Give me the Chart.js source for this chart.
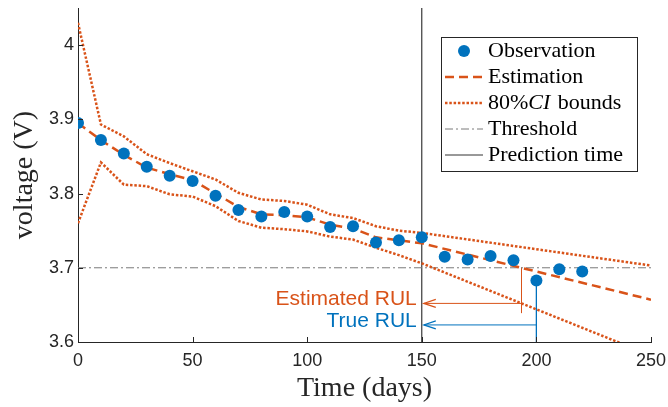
<!DOCTYPE html>
<html>
<head>
<meta charset="utf-8">
<script src="https://cdn.jsdelivr.net/npm/chart.js@4.4.1/dist/chart.umd.min.js"></script>
<style>
  html, body { margin: 0; padding: 0; background: #fff; }
</style>
</head>
<body>
<canvas id="chart" width="668" height="407"></canvas>
<script>
// observed voltage every 10 days
const obsDays = [0, 10, 20, 30, 40, 50, 60, 70, 80, 90, 100, 110, 120, 130, 140, 150, 160, 170, 180, 190, 200, 210, 220];
const obsVolt = [3.895, 3.872, 3.854, 3.836, 3.824, 3.817, 3.797, 3.778, 3.769, 3.775, 3.769, 3.755, 3.756, 3.734, 3.737, 3.741, 3.715, 3.711, 3.716, 3.710, 3.683, 3.698, 3.695];

// filtered estimate, then extrapolation after prediction time
const estDays = [0, 10, 20, 30, 40, 50, 60, 70, 80, 90, 100, 110, 120, 130, 140, 150, 250];
const estVolt = [3.895, 3.872, 3.852, 3.835, 3.826, 3.818, 3.800, 3.782, 3.772, 3.771, 3.768, 3.758, 3.753, 3.741, 3.737, 3.733, 3.657];

// 80% confidence bounds
const ciDays = [0, 10, 20, 30, 40, 50, 60, 70, 80, 90, 100, 110, 120, 130, 140, 150, 250];
const ciUpper = [4.030, 3.893, 3.877, 3.853, 3.841, 3.830, 3.819, 3.801, 3.792, 3.790, 3.785, 3.772, 3.767, 3.756, 3.750, 3.747, 3.703];
const ciLower = [3.760, 3.842, 3.812, 3.810, 3.799, 3.796, 3.783, 3.763, 3.754, 3.752, 3.749, 3.742, 3.738, 3.727, 3.717, 3.706, 3.582];

const threshold = 3.7;
const predictionTime = 150;
const estRulDay = 193.5;
const estRulArrowV = 3.652;
const estRulLineEnd = 3.639;
const trueRulDay = 200;
const trueRulArrowV = 3.623;

const xTicks = [0, 50, 100, 150, 200, 250];
const yTicks = [3.6, 3.7, 3.8, 3.9, 4];

const ORANGE = '#D95319';
const BLUE = '#0072BD';
const AXIS = '#262626';
const SANS = '"Liberation Sans", Arial, sans-serif';
const SERIF = '"Liberation Serif", "Times New Roman", serif';
const DOTS = [2.5, 1.8];

const pts = (xs, ys) => xs.map((x, i) => ({ x: x, y: ys[i] }));

const line = (data, color, width, dash) => ({
  data: data,
  showLine: true,
  borderColor: color,
  borderWidth: width,
  borderDash: dash || [],
  pointRadius: 0,
  fill: false,
  tension: 0
});

// inward ticks, arrowheads, RUL labels and the boxed legend
const extras = {
  id: 'extras',
  afterDatasetsDraw(chart) {
    const { ctx, chartArea: a, scales: { x, y } } = chart;
    ctx.save();
    ctx.strokeStyle = AXIS;
    ctx.lineWidth = 1;
    xTicks.forEach(v => {
      const px = Math.round(x.getPixelForValue(v)) + 0.5;
      ctx.beginPath(); ctx.moveTo(px, a.bottom); ctx.lineTo(px, a.bottom - 5); ctx.stroke();
    });
    yTicks.forEach(v => {
      const py = Math.round(y.getPixelForValue(v)) + 0.5;
      ctx.beginPath(); ctx.moveTo(a.left, py); ctx.lineTo(a.left + 5, py); ctx.stroke();
    });

    const tipX = x.getPixelForValue(predictionTime) + 2;
    const arrow = (v, color) => {
      const py = y.getPixelForValue(v);
      ctx.strokeStyle = color;
      ctx.lineWidth = 1.2;
      ctx.beginPath();
      ctx.moveTo(tipX + 12, py - 4);
      ctx.lineTo(tipX, py);
      ctx.lineTo(tipX + 12, py + 4);
      ctx.stroke();
    };
    arrow(estRulArrowV, ORANGE);
    arrow(trueRulArrowV, BLUE);

    ctx.font = '21px ' + SANS;
    ctx.textAlign = 'right';
    ctx.textBaseline = 'middle';
    const tx = x.getPixelForValue(predictionTime) - 5;
    ctx.fillStyle = ORANGE;
    ctx.fillText('Estimated RUL', tx, y.getPixelForValue(estRulArrowV) - 4);
    ctx.fillStyle = BLUE;
    ctx.fillText('True RUL', tx, y.getPixelForValue(trueRulArrowV) - 4);

    // legend
    const bx = 441, by = 37, bw = 196, bh = 134;
    ctx.fillStyle = '#fff';
    ctx.fillRect(bx, by, bw, bh);
    ctx.strokeStyle = AXIS;
    ctx.lineWidth = 1;
    ctx.strokeRect(bx + 0.5, by + 0.5, bw, bh);
    const sx0 = 445, sx1 = 483, textX = 488;
    const rowY = i => 51 + 26 * i;
    ctx.textAlign = 'left';
    ctx.textBaseline = 'middle';

    ctx.fillStyle = BLUE;
    ctx.beginPath(); ctx.arc((sx0 + sx1) / 2, rowY(0), 6, 0, Math.PI * 2); ctx.fill();
    const seg = (i, color, width, dash) => {
      ctx.strokeStyle = color; ctx.lineWidth = width; ctx.setLineDash(dash);
      ctx.beginPath(); ctx.moveTo(sx0, rowY(i)); ctx.lineTo(sx1, rowY(i)); ctx.stroke();
      ctx.setLineDash([]);
    };
    seg(1, ORANGE, 2.5, [9, 5]);
    seg(2, ORANGE, 2.5, DOTS);
    seg(3, '#7a7a7a', 1, [8, 3, 2, 3]);
    seg(4, '#333', 1, []);

    ctx.font = '22px ' + SERIF;
    ctx.fillStyle = '#000';
    ctx.fillText('Observation', textX, rowY(0));
    ctx.fillText('Estimation', textX, rowY(1));
    let cx = textX;
    ctx.fillText('80%', cx, rowY(2)); cx += ctx.measureText('80%').width;
    ctx.font = 'italic 22px ' + SERIF;
    ctx.fillText('CI', cx, rowY(2)); cx += ctx.measureText('CI').width + 2;
    ctx.font = '22px ' + SERIF;
    ctx.fillText(' bounds', cx, rowY(2));
    ctx.fillText('Threshold', textX, rowY(3));
    ctx.fillText('Prediction time', textX, rowY(4));
    ctx.restore();
  }
};

new Chart(document.getElementById('chart'), {
  type: 'scatter',
  data: {
    datasets: [
      {
        data: pts(obsDays, obsVolt),
        backgroundColor: BLUE,
        borderColor: BLUE,
        pointRadius: 6,
        pointBorderWidth: 0
      },
      line(pts(estDays, estVolt), ORANGE, 2.5, [9, 5]),
      line(pts(ciDays, ciUpper), ORANGE, 2.5, DOTS),
      line(pts(ciDays, ciLower), ORANGE, 2.5, DOTS),
      line(pts([0, 250], [threshold, threshold]), '#7a7a7a', 1, [8, 3, 2, 3]),
      line(pts([predictionTime, predictionTime], [3.6, 4.05]), '#111', 1),
      line(pts([estRulDay, estRulDay], [threshold, estRulLineEnd]), ORANGE, 1),
      line(pts([estRulDay, predictionTime + 1], [estRulArrowV, estRulArrowV]), ORANGE, 1),
      line(pts([trueRulDay, trueRulDay], [obsVolt[20], 3.6]), BLUE, 1),
      line(pts([trueRulDay, predictionTime + 1], [trueRulArrowV, trueRulArrowV]), BLUE, 1)
    ]
  },
  options: {
    responsive: false,
    animation: false,
    devicePixelRatio: 1,
    layout: { padding: { top: 8, right: 17, left: 0, bottom: 0 } },
    plugins: { legend: { display: false }, tooltip: { enabled: false } },
    scales: {
      x: {
        type: 'linear',
        min: 0,
        max: 250,
        afterFit: s => { s.height = 65; s.paddingLeft = 0; s.paddingRight = 0; },
        afterBuildTicks: s => { s.ticks = xTicks.map(v => ({ value: v })); },
        grid: { display: false, drawTicks: false },
        border: { display: true, color: AXIS, width: 1 },
        ticks: { color: AXIS, font: { family: SANS, size: 18 }, padding: 8, maxRotation: 0, autoSkip: false },
        title: { display: true, text: 'Time (days)', color: AXIS, font: { family: SERIF, size: 28, lineHeight: 1 }, padding: { top: 0, bottom: 4 } }
      },
      y: {
        type: 'linear',
        min: 3.6,
        max: 4.05,
        afterFit: s => { s.width = 78; s.paddingTop = 0; s.paddingBottom = 0; },
        afterBuildTicks: s => { s.ticks = yTicks.map(v => ({ value: v })); },
        grid: { display: false, drawTicks: false },
        border: { display: true, color: AXIS, width: 1 },
        ticks: { color: AXIS, font: { family: SANS, size: 18 }, padding: 4, callback: v => String(+v.toFixed(2)) },
        title: { display: true, text: 'voltage (V)', color: AXIS, font: { family: SERIF, size: 28, lineHeight: 1 }, padding: { top: 11, bottom: 0 } }
      }
    }
  },
  plugins: [extras]
});
</script>
</body>
</html>
